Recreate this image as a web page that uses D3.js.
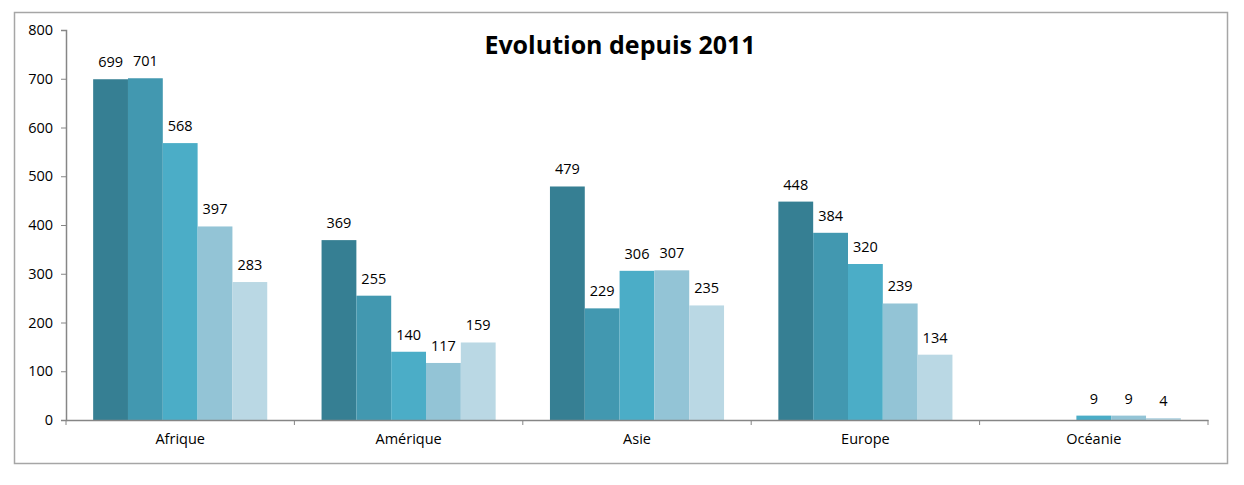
<!DOCTYPE html>
<html>
<head>
<meta charset="utf-8">
<script src="https://cdn.jsdelivr.net/npm/d3@7"></script>
<style>
  body { margin: 0; background: #fff; }
  svg text { font-family: "Open Sans", "DejaVu Sans", sans-serif; fill: #000; }
</style>
</head>
<body>
<div id="chart"></div>
<script>
// Data
var categories = ['Afrique', 'Amérique', 'Asie', 'Europe', 'Océanie'];
var seriesNames = ['s1', 's2', 's3', 's4', 's5'];
var serie1 = [699, 369, 479, 448, 0];
var serie2 = [701, 255, 229, 384, 0];
var serie3 = [568, 140, 306, 320, 9];
var serie4 = [397, 117, 307, 239, 9];
var serie5 = [283, 159, 235, 134, 4];
var yTicks = [0, 100, 200, 300, 400, 500, 600, 700, 800];
var colors = ['#367f93', '#4298b0', '#4badc7', '#93c4d6', '#bad8e4'];

var series = [serie1, serie2, serie3, serie4, serie5];

var W = 1244, H = 485;
var plotLeft = 66, plotRight = 1208, plotTop = 30, plotBottom = 420;

var svg = d3.select('#chart').append('svg')
    .attr('width', W).attr('height', H);

// chart frame
svg.append('rect')
    .attr('x', 14.5).attr('y', 12.5)
    .attr('width', 1213).attr('height', 451)
    .attr('fill', 'none').attr('stroke', '#a6a6a6').attr('stroke-width', 1.5);

var x0 = d3.scaleBand().domain(categories).range([plotLeft, plotRight]).paddingInner(0).paddingOuter(0);
var x1 = d3.scaleBand().domain(seriesNames).range([0, x0.bandwidth()]).paddingInner(0).paddingOuter(0.78);
var y = d3.scaleLinear().domain([0, 800]).range([plotBottom, plotTop]);

// bars
var groups = svg.selectAll('g.cat')
    .data(categories)
    .enter().append('g')
    .attr('class', 'cat')
    .attr('transform', function(d){ return 'translate(' + x0(d) + ',0)'; });

groups.selectAll('rect')
    .data(function(d, i){ return series.map(function(s, j){ return {v: s[i], k: seriesNames[j], j: j}; }); })
    .enter().append('rect')
    .attr('x', function(d){ return x1(d.k); })
    .attr('y', function(d){ return y(d.v); })
    .attr('width', x1.bandwidth())
    .attr('height', function(d){ return plotBottom - y(d.v); })
    .attr('fill', function(d){ return colors[d.j]; });

groups.selectAll('text.val')
    .data(function(d, i){ return series.map(function(s, j){ return {v: s[i], k: seriesNames[j]}; }).filter(function(d){ return d.v > 0; }); })
    .enter().append('text')
    .attr('class', 'val')
    .attr('x', function(d){ return x1(d.k) + x1.bandwidth() / 2; })
    .attr('y', function(d){ return y(d.v) - 12; })
    .attr('text-anchor', 'middle')
    .style('font-size', '14.5px')
    .text(function(d){ return d.v; });

// y axis
var yAxis = svg.append('g')
    .attr('transform', 'translate(' + plotLeft + ',0)')
    .call(d3.axisLeft(y).tickValues(yTicks).tickSize(5).tickPadding(8));
yAxis.selectAll('text').style('font-size', '14.5px');

// x axis
var xAxis = svg.append('g')
    .attr('transform', 'translate(0,' + plotBottom + ')')
    .call(d3.axisBottom(x0).tickSize(0).tickPadding(14));
xAxis.selectAll('text').style('font-size', '14.5px');
xAxis.selectAll('line.sep')
    .data(d3.range(categories.length + 1))
    .enter().append('line')
    .attr('class', 'sep')
    .attr('x1', function(i){ return plotLeft + i * x0.bandwidth(); })
    .attr('x2', function(i){ return plotLeft + i * x0.bandwidth(); })
    .attr('y1', 0).attr('y2', 5)
    .attr('stroke', '#868686');

svg.selectAll('.domain').attr('stroke', '#868686').attr('stroke-width', 1.5);
svg.selectAll('.tick line').attr('stroke', '#868686');

// title
svg.append('text')
    .attr('x', 620).attr('y', 54)
    .attr('text-anchor', 'middle')
    .style('font-size', '25px')
    .style('font-weight', 'bold')
    .text('Evolution depuis 2011');
</script>
</body>
</html>
